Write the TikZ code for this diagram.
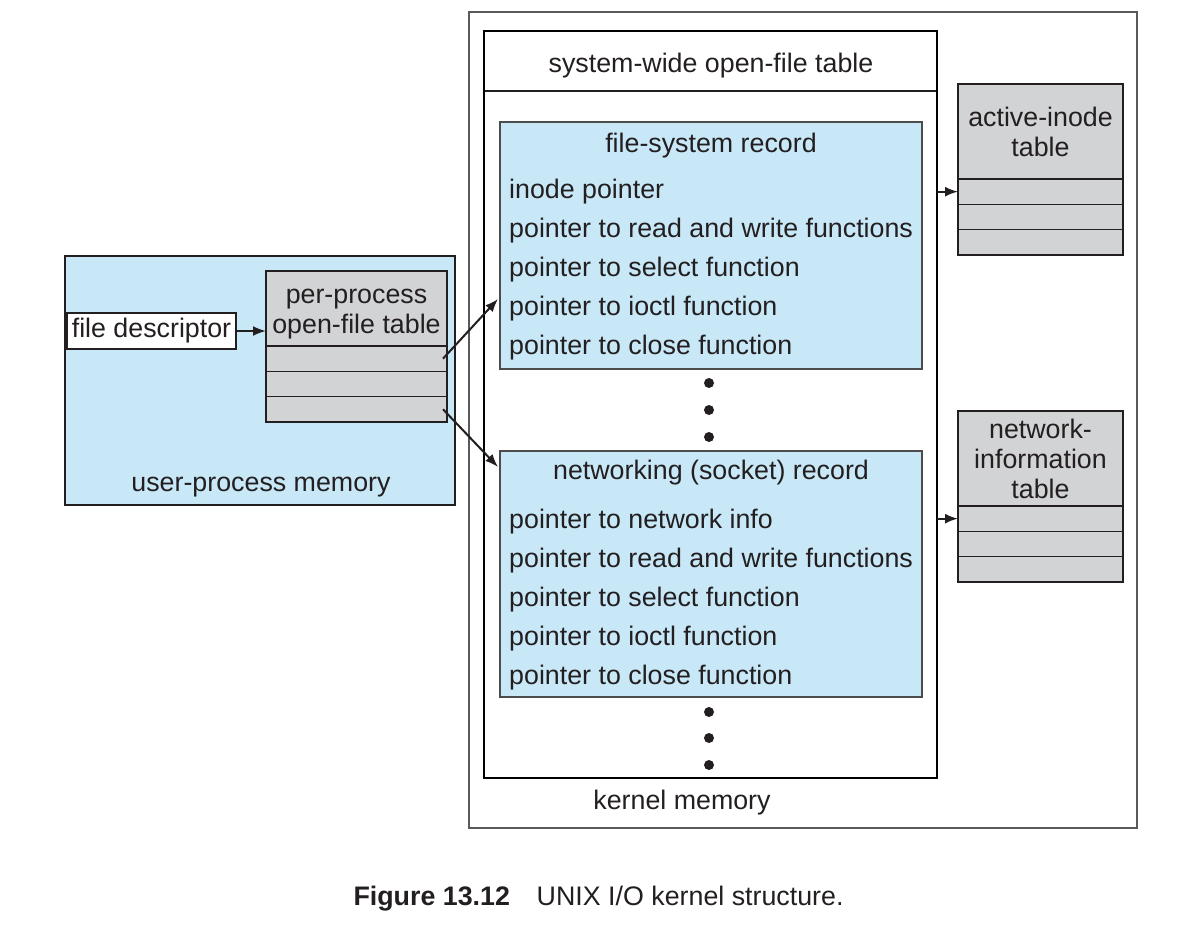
\documentclass[tikz,border=0pt]{standalone}
\usepackage{fontspec}
\setmainfont{Liberation Sans}
\usetikzlibrary{arrows.meta,positioning}

\definecolor{recblue}{RGB}{200,232,248}
\definecolor{tabgray}{RGB}{210,211,213}
\definecolor{inkgray}{RGB}{35,31,32}

\newcommand\figtextstyle{\fontsize{26.8}{30}\selectfont}
\newcommand\recpitch{39}
\newcommand\rowheight{25.3pt}
% three empty rows under a table head
\newcommand\tablerows[2]{
  \node[tabrow, minimum width=#2pt, below=0pt of #1] (#1-1) {};
  \node[tabrow, minimum width=#2pt, below=0pt of #1-1] (#1-2) {};
  \node[tabrow, minimum width=#2pt, below=0pt of #1-2] (#1-3) {};
}

\tikzset{
  box/.style={draw=inkgray, line width=1.6pt, inner sep=0pt, outer sep=0pt, anchor=north west},
  recbox/.style={box, fill=recblue, draw=black!70},
  tabhead/.style={box, fill=tabgray, align=center},
  tabrow/.style={box, fill=tabgray, minimum height=\rowheight},
  recline/.style={anchor=base west, inner sep=0pt},
  ptr/.style={-{Latex[length=13pt,width=10pt]}, line width=2pt, draw=inkgray},
  dot/.style={circle, fill=inkgray, inner sep=0pt, minimum size=10pt},
}

\begin{document}
\begin{tikzpicture}[x=1pt, y=-1pt, font=\figtextstyle, text=inkgray]
    \useasboundingbox (0,0) rectangle (1200,937);

    % kernel memory
    \node[box, draw=black!65, minimum width=668pt, minimum height=816pt] (kmem) at (469,12) {};
    \node[box, minimum width=453pt, minimum height=60pt] (syshead) at (484,31) {};
    \node[box, draw=black, line width=2.8pt, minimum width=453pt, minimum height=747pt] (sysbox) at (484,31) {};
    \node[anchor=base] (systitle) at (711,72) {system-wide open-file table};
    \node[anchor=base] (kmemlabel) at (682,809) {kernel memory};

    % records
    \node[recbox, minimum width=422pt, minimum height=247pt] (fsrec) at (500,122) {};
    \node[anchor=base] (fstitle) at (711,152) {file-system record};
    \foreach \txt [count=\i] in {inode pointer, pointer to read and write functions,
        pointer to select function, pointer to ioctl function, pointer to close function}
      \node[recline] (fs\i) at (509,{198+(\i-1)*\recpitch}) {\txt};

    \node[recbox, minimum width=422pt, minimum height=246pt] (netrec) at (500,451) {};
    \node[anchor=base] (nettitle) at (711,479) {networking (socket) record};
    \foreach \txt [count=\i] in {pointer to network info, pointer to read and write functions,
        pointer to select function, pointer to ioctl function, pointer to close function}
      \node[recline] (net\i) at (509,{528+(\i-1)*\recpitch}) {\txt};

    \foreach \y in {383,410,437,712,738,765}
      \node[dot] (dot\y) at (709,\y) {};

    % tables on the right
    \node[tabhead, minimum width=165pt, minimum height=95pt] (ai) at (958,84) {active-inode\\table};
    \tablerows{ai}{165}
    \node[tabhead, minimum width=165pt, minimum height=95pt] (ni) at (958,411) {network-\\information\\table};
    \tablerows{ni}{165}

    % user process
    \node[box, fill=recblue, minimum width=390pt, minimum height=249pt] (upmem) at (65,256) {};
    \node[anchor=base] (uplabel) at (261,491) {user-process memory};
    \node[tabhead, minimum width=181pt, minimum height=75pt] (pp) at (266,271) {};
    \node[align=center, inner sep=0pt] (pptitle) at ([yshift=-6pt]pp.center) {per-process\\open-file table};
    \tablerows{pp}{181}
    \node[box, fill=white, minimum width=169pt, minimum height=36pt] (fd) at (67,313) {file descriptor};

    % pointers
    \coordinate (fsin) at (498,299);
    \coordinate (netin) at (498,467);
    \draw[ptr] (fd.east) -- (pp.west |- fd.east);
    \draw[ptr] ([xshift=-4pt]pp-1.east) -- (fsin);
    \draw[ptr] ([xshift=-4pt]pp-3.east) -- (netin);
    \draw[ptr] (sysbox.east |- ai-1.west) -- (ai-1.west);
    \draw[ptr] (sysbox.east |- ni-1.west) -- (ni-1.west);

    \node[anchor=base west] (caption) at (350,905) {\bfseries Figure 13.12\quad\mdseries UNIX I/O kernel structure.};
\end{tikzpicture}
\end{document}
